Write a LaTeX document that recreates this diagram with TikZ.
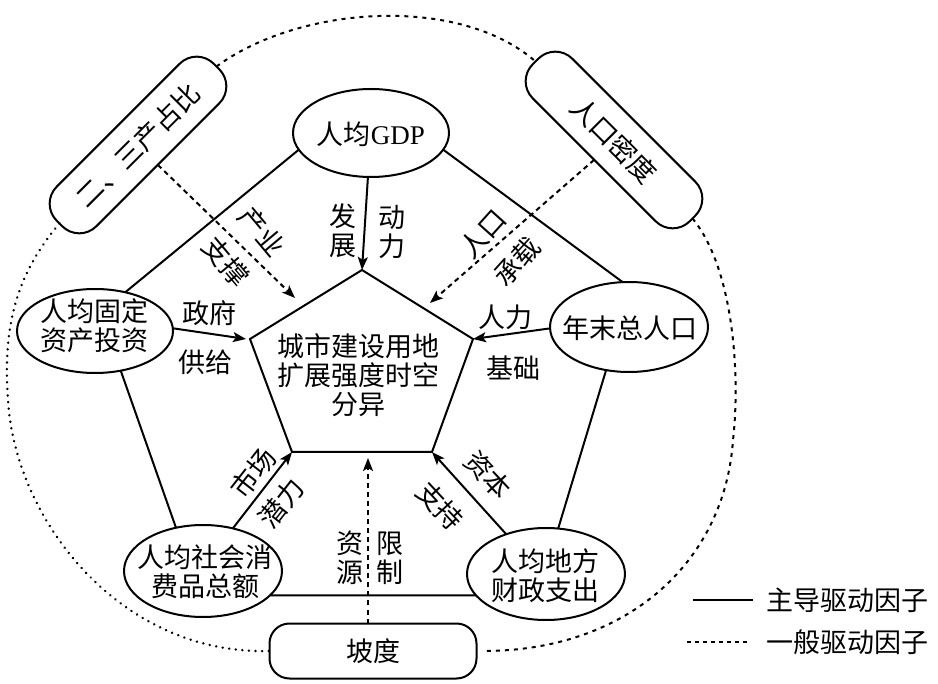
\documentclass[tikz,border=0pt]{standalone}
\usepackage{fontspec}
\setmainfont{Liberation Serif}
\newfontfamily\cjk{Noto Sans CJK SC}
\usetikzlibrary{shapes.geometric,arrows.meta,calc}
\begin{document}
\begin{tikzpicture}[x=1pt,y=-1pt,
  every node/.style={inner sep=0pt, outer sep=0pt},
  ln/.style={line width=2pt},
  ell/.style={ellipse, draw, line width=2pt},
  rbox/.style={draw, rounded corners=24pt, line width=2pt, minimum width=222pt, minimum height=56pt},
  txt/.style={font=\cjk\fontsize{27}{29}\selectfont, align=center},
  arr/.style={line width=2pt, -{Stealth[length=13pt,width=10pt,inset=3pt]}},
  darr/.style={arr, dash pattern=on 5pt off 4pt},
  loopd/.style={line width=2pt, dash pattern=on 4pt off 5pt},
  dots/.style={line width=2.6pt, dash pattern=on 0.1pt off 6.5pt, line cap=round},
]
\useasboundingbox (0,0) rectangle (938,684);

% pentagon
\coordinate (pT) at (362,270);
\coordinate (pL) at (250,339);
\coordinate (pR) at (473,339);
\coordinate (pBL) at (292,452);
\coordinate (pBR) at (432,452);
\draw[ln, line join=miter] (pT) -- (pR) -- (pBR) -- (pBL) -- (pL) -- cycle;
\node[txt] (core) at (358,375) {城市建设用地\\扩展强度时空\\分异};

% ellipses
\node[ell, minimum width=156pt, minimum height=88pt] (gdp) at (371,133) {};
\node[txt] (gdpt) at (371,134) {人均{\rmfamily GDP}};
\node[ell, minimum width=156pt, minimum height=84pt] (gd) at (95,331) {};
\node[txt] (gdt) at (95,326) {人均固定\\资产投资};
\node[ell, minimum width=158pt, minimum height=90pt] (nm) at (629,327) {};
\node[txt] (nmt) at (630,328) {年末总人口};
\node[ell, minimum width=158pt, minimum height=92pt] (xf) at (203,571) {};
\node[txt] (xft) at (205,572) {人均社会消\\费品总额};
\node[ell, minimum width=158pt, minimum height=92pt] (cz) at (546,574) {};
\node[txt] (czt) at (545,576) {人均地方\\财政支出};

% rounded boxes
\node[rbox, txt, rotate=45] (ersan) at (138,145) {二、三产占比};
\node[rbox, txt, rotate=-45] (rkmd) at (614,140) {人口密度};
\node[draw, line width=2pt, rounded corners=20pt, minimum width=207pt, minimum height=55pt, txt] (pd) at (373,651) {坡度};

% outer loop
\draw[loopd] (ersan.east) .. controls (300,5) and (460,-5) .. (rkmd.west);
\draw[loopd] (rkmd.east) .. controls (735,270) and (740,380) .. (733,440)
   .. controls (725,560) and (630,650) .. ([xshift=9pt]pd.east);
\draw[dots] (ersan.west) .. controls (20,270) and (2,320) .. (8,400)
   .. controls (15,520) and (120,655) .. (pd.west);

% solid links
\draw[ln] (gdp.193) -- (gd.52);
\draw[ln] (gdp.347) -- (nm.98);
\draw[ln] (gd.303) -- (xf.122);
\draw[ln] (nm.242) -- (cz.75);
\draw[ln] (xf.340) -- (cz.197);

% solid arrows
\draw[arr] (gdp.266) -- (pT);
\draw[arr] (gd.2) -- ([xshift=-4pt]pL);
\draw[arr] (nm.181) -- (pR);
\draw[arr] (xf.55) -- (pBL);
\draw[arr] (cz.135) -- (pBR);

% dashed arrows
\coordinate (tipL) at (295,298);
\coordinate (tipR) at (430,303);
\coordinate (tipB) at (368,458);
\draw[darr] (ersan.south) -- (tipL);
\draw[darr] (rkmd.south) -- (tipR);
\draw[darr] (pd.north -| tipB) -- (tipB);

% labels
\node[txt] (l1) at (343,231) {发\\展};
\node[txt] (l2) at (392,232) {动\\力};
\node[txt] (l3) at (209,313) {政府};
\node[txt] (l4) at (205,362) {供给};
\node[txt] (l5) at (505,317) {人力};
\node[txt] (l6) at (513,368) {基础};
\node[txt, rotate=52] (l7) at (253,473) {市场};
\node[txt, rotate=52] (l8) at (281,503) {潜力};
\node[txt, rotate=-47] (l9) at (488,475) {资本};
\node[txt, rotate=-47] (l10) at (440,506) {支持};
\node[txt] (l11) at (350,558) {资\\源};
\node[txt] (l12) at (390,558) {限\\制};
\node[txt, rotate=-50] (l13) at (262,232) {产业};
\node[txt, rotate=-50] (l14) at (226,262) {支撑};
\node[txt, rotate=48] (l15) at (483,234) {人口};
\node[txt, rotate=48] (l16) at (517,262) {承载};

% legend
\coordinate (lg1a) at (693,600);
\coordinate (lg1b) at (753,600);
\coordinate (lg2a) at (687,642);
\coordinate (lg2b) at (748,642);
\draw[ln] (lg1a) -- (lg1b);
\draw[line width=2pt, dash pattern=on 4pt off 4pt] (lg2a) -- (lg2b);
\node[txt] (lgt1) at (847,600) {主导驱动因子};
\node[txt] (lgt2) at (847,642) {一般驱动因子};
\end{tikzpicture}
\end{document}
